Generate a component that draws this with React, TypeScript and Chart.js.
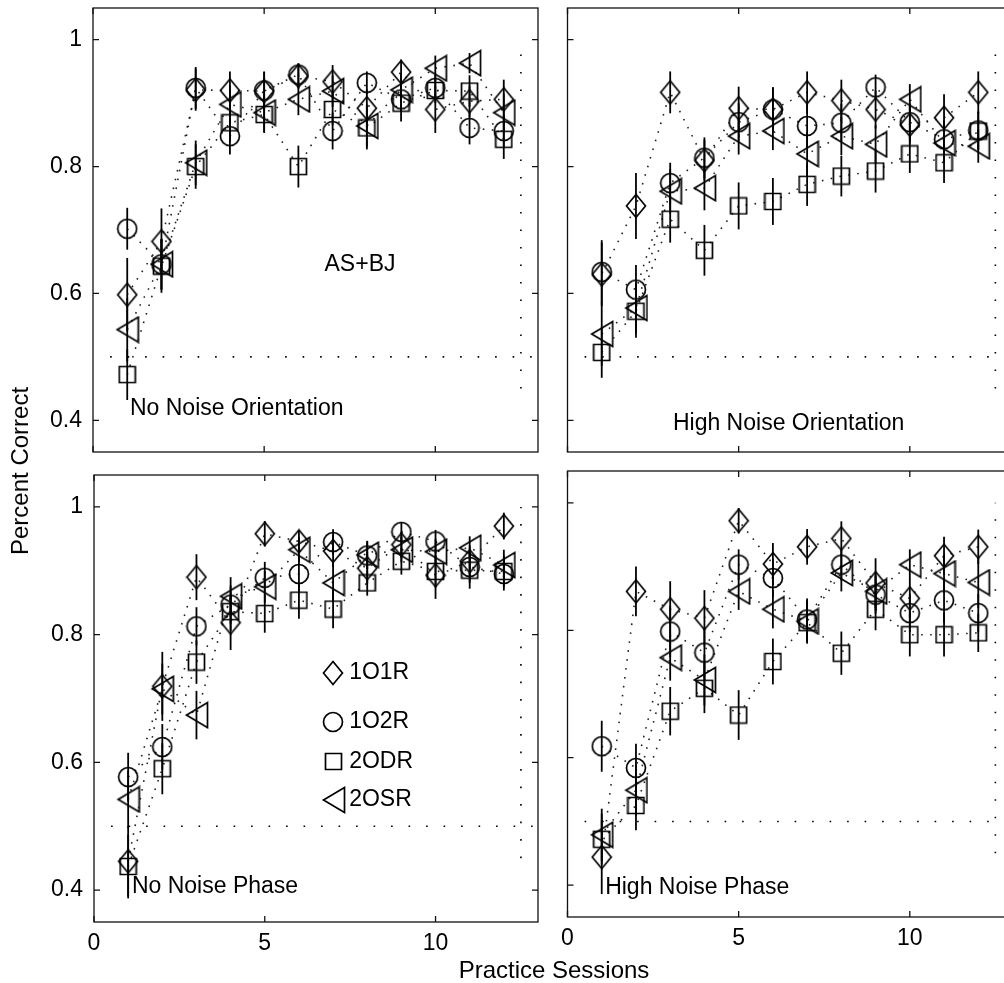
import React, { useEffect, useRef } from 'react';
import { Chart, registerables } from 'chart.js';

Chart.register(...registerables);

// ---------------- data ----------------
const sessions = [1, 2, 3, 4, 5, 6, 7, 8, 9, 10, 11, 12];
const xTickValues = [0, 5, 10];
const xTickLabels = ['0', '5', '10'];
const yTickValues = [0.4, 0.6, 0.8, 1];
const yTickLabels = ['0.4', '0.6', '0.8', '1'];
const seriesNames = ['1O1R', '1O2R', '2ODR', '2OSR'];
const chanceX = [0.5, 13];
const chanceY = [0.5, 0.5];
const refX = [12.5, 12.5];
const refY = [0.45, 1.0];

// No Noise Orientation
const nnOri1O1R = [0.598, 0.682, 0.921, 0.920, 0.919, 0.943, 0.934, 0.892, 0.949, 0.890, 0.903, 0.906];
const nnOri1O2R = [0.702, 0.646, 0.924, 0.848, 0.920, 0.945, 0.856, 0.932, 0.906, 0.924, 0.861, 0.856];
const nnOri2ODR = [0.472, 0.643, 0.800, 0.869, 0.882, 0.800, 0.890, 0.861, 0.900, 0.920, 0.919, 0.843];
const nnOri2OSR = [0.543, 0.646, 0.806, 0.898, 0.885, 0.906, 0.919, 0.864, 0.921, 0.955, 0.963, 0.885];
const nnOri1O1RErr = [0.058, 0.052, 0.033, 0.03, 0.03, 0.02, 0.026, 0.03, 0.02, 0.037, 0.025, 0.031];
const nnOri1O2RErr = [0.033, 0.04, 0.033, 0.029, 0.03, 0.017, 0.029, 0.018, 0.02, 0.02, 0.026, 0.025];
const nnOri2ODRErr = [0.04, 0.042, 0.035, 0.03, 0.029, 0.033, 0.025, 0.034, 0.029, 0.02, 0.025, 0.031];
const nnOri2OSRErr = [0.05, 0.04, 0.035, 0.03, 0.03, 0.025, 0.025, 0.034, 0.025, 0.02, 0.016, 0.03];

// High Noise Orientation
const hnOri1O1R = [0.630, 0.738, 0.917, 0.810, 0.892, 0.890, 0.917, 0.904, 0.890, 0.866, 0.877, 0.917];
const hnOri1O2R = [0.634, 0.606, 0.774, 0.814, 0.870, 0.890, 0.864, 0.869, 0.925, 0.870, 0.843, 0.857];
const hnOri2ODR = [0.507, 0.572, 0.717, 0.668, 0.738, 0.745, 0.772, 0.785, 0.793, 0.820, 0.806, 0.856];
const hnOri2OSR = [0.536, 0.577, 0.761, 0.766, 0.848, 0.856, 0.820, 0.848, 0.835, 0.906, 0.837, 0.832];
const hnOri1O1RErr = [0.05, 0.052, 0.033, 0.032, 0.034, 0.035, 0.033, 0.033, 0.03, 0.03, 0.037, 0.033];
const hnOri1O2RErr = [0.05, 0.039, 0.032, 0.032, 0.03, 0.035, 0.035, 0.03, 0.02, 0.03, 0.03, 0.03];
const hnOri2ODRErr = [0.04, 0.042, 0.037, 0.04, 0.037, 0.037, 0.034, 0.032, 0.034, 0.03, 0.032, 0.03];
const hnOri2OSRErr = [0.05, 0.04, 0.035, 0.035, 0.029, 0.03, 0.035, 0.03, 0.03, 0.024, 0.03, 0.026];

// No Noise Phase
const nnPh1O1R = [0.445, 0.719, 0.890, 0.819, 0.958, 0.946, 0.931, 0.904, 0.941, 0.893, 0.915, 0.970];
const nnPh1O2R = [0.577, 0.624, 0.813, 0.847, 0.889, 0.895, 0.945, 0.924, 0.961, 0.946, 0.906, 0.895];
const nnPh2ODR = [0.437, 0.590, 0.757, 0.836, 0.833, 0.854, 0.840, 0.881, 0.915, 0.899, 0.901, 0.899];
const nnPh2OSR = [0.542, 0.715, 0.674, 0.860, 0.875, 0.933, 0.881, 0.925, 0.933, 0.930, 0.936, 0.909];
const nnPh1O1RErr = [0.055, 0.054, 0.036, 0.043, 0.02, 0.018, 0.025, 0.025, 0.02, 0.037, 0.025, 0.021];
const nnPh1O2RErr = [0.038, 0.036, 0.03, 0.03, 0.025, 0.03, 0.02, 0.022, 0.015, 0.018, 0.025, 0.026];
const nnPh2ODRErr = [0.05, 0.04, 0.034, 0.03, 0.03, 0.029, 0.03, 0.02, 0.021, 0.025, 0.029, 0.025];
const nnPh2OSRErr = [0.045, 0.04, 0.038, 0.03, 0.025, 0.02, 0.03, 0.022, 0.02, 0.02, 0.018, 0.024];

// High Noise Phase
const hnPh1O1R = [0.444, 0.861, 0.833, 0.819, 0.972, 0.904, 0.931, 0.944, 0.874, 0.850, 0.917, 0.931];
const hnPh1O2R = [0.618, 0.584, 0.798, 0.765, 0.903, 0.882, 0.817, 0.903, 0.856, 0.827, 0.847, 0.827];
const hnPh2ODR = [0.472, 0.525, 0.673, 0.709, 0.667, 0.751, 0.812, 0.764, 0.833, 0.793, 0.793, 0.796];
const hnPh2OSR = [0.479, 0.549, 0.757, 0.722, 0.861, 0.833, 0.814, 0.890, 0.861, 0.903, 0.889, 0.875];
const hnPh1O1RErr = [0.058, 0.039, 0.044, 0.044, 0.02, 0.033, 0.028, 0.027, 0.039, 0.03, 0.03, 0.027];
const hnPh1O2RErr = [0.04, 0.038, 0.04, 0.04, 0.024, 0.03, 0.033, 0.025, 0.03, 0.03, 0.035, 0.03];
const hnPh2ODRErr = [0.04, 0.039, 0.038, 0.039, 0.039, 0.036, 0.033, 0.034, 0.033, 0.034, 0.034, 0.03];
const hnPh2OSRErr = [0.041, 0.04, 0.036, 0.04, 0.029, 0.03, 0.033, 0.029, 0.03, 0.024, 0.03, 0.04];

// ---------------- styling / layout ----------------
const FONT = '"Liberation Sans", Arial, Helvetica, sans-serif';
const FONT_SIZE = 23;
const TITLE_SIZE = 24;
const INK = '#000';
const MARKER_KINDS = ['diamond', 'circle', 'square', 'triangle'];

function makeMarker(kind: string): HTMLCanvasElement {
  const dims: Record<string, [number, number]> = {
    diamond: [22, 26],
    circle: [22, 22],
    square: [19, 19],
    triangle: [25, 28],
  };
  const [w, h] = dims[kind];
  const c = document.createElement('canvas');
  c.width = w;
  c.height = h;
  const g = c.getContext('2d') as CanvasRenderingContext2D;
  g.strokeStyle = INK;
  g.lineWidth = 1.7;
  g.lineJoin = 'miter';
  g.beginPath();
  const m = 1.5;
  if (kind === 'diamond') {
    g.moveTo(w / 2, m);
    g.lineTo(w - m, h / 2);
    g.lineTo(w / 2, h - m);
    g.lineTo(m, h / 2);
    g.closePath();
  } else if (kind === 'circle') {
    g.arc(w / 2, h / 2, w / 2 - m, 0, Math.PI * 2);
  } else if (kind === 'square') {
    g.rect(m, m, w - 2 * m, h - 2 * m);
  } else {
    g.moveTo(2.5, h / 2);
    g.lineTo(w - m, m);
    g.lineTo(w - m, h - m);
    g.closePath();
  }
  g.stroke();
  return c;
}

type TextItem = { text: string; x: number; y: number; align: CanvasTextAlign; baseline: CanvasTextBaseline };

type PanelCfg = {
  box: { left: number; top: number; width: number; height: number };
  padding: { left: number; top: number; right: number; bottom: number };
  showX: boolean;
  showY: boolean;
  yWidth: number;
  values: number[][];
  errors: number[][];
  texts: TextItem[];
  legend?: { markerX: number; textX: number; ys: number[] };
};

const X_AXIS_H = 40;

const panels: PanelCfg[] = [
  {
    box: { left: 0, top: 0, width: 545, height: 465 },
    padding: { left: 0, top: 8, right: 7, bottom: 13 },
    showX: false,
    showY: true,
    yWidth: 93,
    values: [nnOri1O1R, nnOri1O2R, nnOri2ODR, nnOri2OSR],
    errors: [nnOri1O1RErr, nnOri1O2RErr, nnOri2ODRErr, nnOri2OSRErr],
    texts: [
      { text: 'No Noise Orientation', x: 1.08, y: 0.408, align: 'left', baseline: 'alphabetic' },
      { text: 'AS+BJ', x: 7.8, y: 0.646, align: 'center', baseline: 'middle' },
    ],
  },
  {
    box: { left: 545, top: 0, width: 480, height: 465 },
    padding: { left: 22.5, top: 8, right: 12.5, bottom: 13 },
    showX: false,
    showY: false,
    yWidth: 0,
    values: [hnOri1O1R, hnOri1O2R, hnOri2ODR, hnOri2OSR],
    errors: [hnOri1O1RErr, hnOri1O2RErr, hnOri2ODRErr, hnOri2OSRErr],
    texts: [{ text: 'High Noise Orientation', x: 3.08, y: 0.385, align: 'left', baseline: 'alphabetic' }],
  },
  {
    box: { left: 0, top: 465, width: 545, height: 518 },
    padding: { left: 0, top: 10, right: 7, bottom: 21 },
    showX: true,
    showY: true,
    yWidth: 94,
    values: [nnPh1O1R, nnPh1O2R, nnPh2ODR, nnPh2OSR],
    errors: [nnPh1O1RErr, nnPh1O2RErr, nnPh2ODRErr, nnPh2OSRErr],
    texts: [{ text: 'No Noise Phase', x: 1.11, y: 0.395, align: 'left', baseline: 'alphabetic' }],
    legend: { markerX: 7.0, textX: 7.47, ys: [0.74, 0.663, 0.601, 0.541] },
  },
  {
    box: { left: 545, top: 465, width: 480, height: 518 },
    padding: { left: 22.5, top: 6, right: 12.5, bottom: 26 },
    showX: true,
    showY: false,
    yWidth: 0,
    values: [hnPh1O1R, hnPh1O2R, hnPh2ODR, hnPh2OSR],
    errors: [hnPh1O1RErr, hnPh1O2RErr, hnPh2ODRErr, hnPh2OSRErr],
    texts: [{ text: 'High Noise Phase', x: 1.1, y: 0.386, align: 'left', baseline: 'alphabetic' }],
  },
];

function makeDecorPlugin(cfg: PanelCfg, markers: HTMLCanvasElement[]) {
  return {
    id: 'decor',
    afterDatasetsDraw(chart: any) {
      const ctx: CanvasRenderingContext2D = chart.ctx;
      const xs = chart.scales.x;
      const ys = chart.scales.y;
      const area = chart.chartArea;
      ctx.save();
      // error bars
      ctx.strokeStyle = INK;
      ctx.lineWidth = 1.8;
      ctx.lineCap = 'butt';
      cfg.values.forEach((vals, si) => {
        const errs = cfg.errors[si];
        vals.forEach((v, i) => {
          const px = xs.getPixelForValue(sessions[i]);
          const y1 = ys.getPixelForValue(v - errs[i]);
          const y2 = ys.getPixelForValue(v + errs[i]);
          ctx.beginPath();
          ctx.moveTo(px, y1);
          ctx.lineTo(px, y2);
          ctx.stroke();
        });
      });
      // box
      ctx.lineWidth = 1.3;
      ctx.strokeStyle = '#111';
      ctx.strokeRect(area.left, area.top, area.right - area.left, area.bottom - area.top);
      // inward ticks
      const tl = 6;
      ctx.beginPath();
      xTickValues.forEach((v) => {
        const px = xs.getPixelForValue(v);
        ctx.moveTo(px, area.top);
        ctx.lineTo(px, area.top + tl);
        ctx.moveTo(px, area.bottom);
        ctx.lineTo(px, area.bottom - tl);
      });
      yTickValues.forEach((v) => {
        const py = ys.getPixelForValue(v);
        ctx.moveTo(area.left, py);
        ctx.lineTo(area.left + tl, py);
        ctx.moveTo(area.right, py);
        ctx.lineTo(area.right - tl, py);
      });
      ctx.stroke();
      // texts
      ctx.fillStyle = INK;
      ctx.font = `${FONT_SIZE}px ${FONT}`;
      cfg.texts.forEach((t) => {
        ctx.textAlign = t.align;
        ctx.textBaseline = t.baseline;
        ctx.fillText(t.text, xs.getPixelForValue(t.x), ys.getPixelForValue(t.y));
      });
      // legend
      if (cfg.legend) {
        const lg = cfg.legend;
        seriesNames.forEach((name, i) => {
          const mx = xs.getPixelForValue(lg.markerX);
          const my = ys.getPixelForValue(lg.ys[i]);
          const mk = markers[i];
          ctx.drawImage(mk, Math.round(mx - mk.width / 2), Math.round(my - mk.height / 2));
          ctx.textAlign = 'left';
          ctx.textBaseline = 'middle';
          ctx.fillText(name, xs.getPixelForValue(lg.textX), my);
        });
      }
      ctx.restore();
    },
  };
}

function Panel({ cfg }: { cfg: PanelCfg }) {
  const ref = useRef<HTMLCanvasElement | null>(null);
  useEffect(() => {
    if (!ref.current) return;
    const markers = MARKER_KINDS.map(makeMarker);
    const tickFont = { family: FONT, size: FONT_SIZE };
    const datasets: any[] = [
      {
        data: chanceX.map((x, i) => ({ x, y: chanceY[i] })),
        showLine: true,
        borderColor: INK,
        borderWidth: 1.6,
        borderDash: [1.6, 15.9],
        pointRadius: 0,
        fill: false,
      },
      {
        data: refX.map((x, i) => ({ x, y: refY[i] })),
        showLine: true,
        borderColor: INK,
        borderWidth: 1.6,
        borderDash: [1.6, 15.9],
        pointRadius: 0,
        fill: false,
      },
      ...cfg.values.map((vals, si) => ({
        label: seriesNames[si],
        data: sessions.map((s, i) => ({ x: s, y: vals[i] })),
        showLine: true,
        borderColor: '#222',
        borderWidth: 1.6,
        borderDash: [1.6, 7.4],
        pointStyle: markers[si],
        pointRadius: 10,
        pointHoverRadius: 10,
        fill: false,
        tension: 0,
      })),
    ];
    const chart = new Chart(ref.current, {
      type: 'scatter',
      data: { datasets },
      plugins: [makeDecorPlugin(cfg, markers) as any],
      options: {
        animation: false,
        responsive: false,
        events: [],
        layout: { padding: cfg.padding, autoPadding: false },
        plugins: { legend: { display: false }, tooltip: { enabled: false } },
        scales: {
          x: {
            type: 'linear',
            min: 0,
            max: 13,
            display: cfg.showX,
            afterBuildTicks: (s: any) => {
              s.ticks = xTickValues.map((v) => ({ value: v }));
            },
            afterFit: (s: any) => {
              s.height = cfg.showX ? X_AXIS_H : 0;
              s.paddingLeft = 0;
              s.paddingRight = 0;
              s.paddingTop = 0;
              s.paddingBottom = 0;
            },
            ticks: {
              callback: (_v: any, i: number) => xTickLabels[i],
              font: tickFont,
              color: INK,
              padding: 8,
              maxRotation: 0,
              autoSkip: false,
            },
            grid: { display: false, drawTicks: false },
            border: { display: false },
          },
          y: {
            type: 'linear',
            min: 0.35,
            max: 1.05,
            display: cfg.showY,
            afterBuildTicks: (s: any) => {
              s.ticks = yTickValues.map((v) => ({ value: v }));
            },
            afterFit: (s: any) => {
              s.width = cfg.yWidth;
              s.paddingLeft = 0;
              s.paddingRight = 0;
              s.paddingTop = 0;
              s.paddingBottom = 0;
            },
            ticks: {
              callback: (_v: any, i: number) => yTickLabels[i],
              font: tickFont,
              color: INK,
              padding: 11,
              autoSkip: false,
            },
            grid: { display: false, drawTicks: false },
            border: { display: false },
          },
        },
      } as any,
    });
    return () => chart.destroy();
  }, [cfg]);
  return (
    <div
      style={{
        position: 'absolute',
        left: cfg.box.left,
        top: cfg.box.top,
        width: cfg.box.width,
        height: cfg.box.height,
      }}
    >
      <canvas ref={ref} width={cfg.box.width} height={cfg.box.height} style={{ display: 'block' }} />
    </div>
  );
}

export default function App() {
  const titleStyle: React.CSSProperties = {
    position: 'absolute',
    fontFamily: FONT,
    fontSize: TITLE_SIZE,
    lineHeight: 1,
    whiteSpace: 'nowrap',
    color: INK,
  };
  return (
    <div
      style={{
        position: 'fixed',
        left: 0,
        top: 0,
        width: 1004,
        height: 983,
        overflow: 'hidden',
        background: '#fff',
      }}
    >
      {panels.map((p, i) => (
        <Panel key={i} cfg={p} />
      ))}
      <div style={{ ...titleStyle, left: 20, top: 471, transform: 'translate(-50%, -50%) rotate(-90deg)' }}>
        Percent Correct
      </div>
      <div style={{ ...titleStyle, left: 554, top: 970, transform: 'translate(-50%, -50%)' }}>
        Practice Sessions
      </div>
    </div>
  );
}
